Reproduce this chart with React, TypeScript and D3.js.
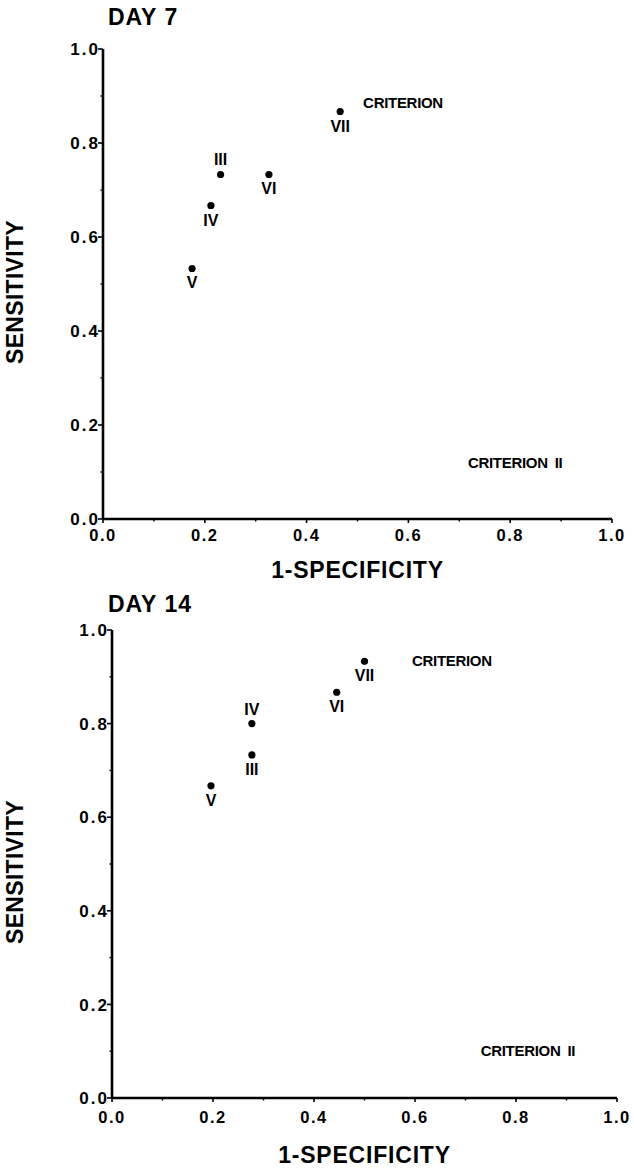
import React from "react";
import * as d3 from "d3";

// Day 7 operating points (1-specificity, sensitivity)
const day7Names = ["V", "IV", "III", "VI", "VII"];
const day7FalsePos = [0.175, 0.212, 0.231, 0.326, 0.466];
const day7Sensitivity = [0.533, 0.667, 0.733, 0.733, 0.867];
const day7LabelAbove = [false, false, true, false, false];

// Day 14 operating points
const day14Names = ["V", "IV", "III", "VI", "VII"];
const day14FalsePos = [0.196, 0.277, 0.277, 0.445, 0.5];
const day14Sensitivity = [0.667, 0.8, 0.733, 0.867, 0.933];
const day14LabelAbove = [false, true, false, false, false];

const majorTicks = [0, 0.2, 0.4, 0.6, 0.8, 1.0];
const tickLabels = ["0.0", "0.2", "0.4", "0.6", "0.8", "1.0"];
const minorTicks = [0.1, 0.3, 0.5, 0.7, 0.9];

const FONT = "'Liberation Sans', Arial, Helvetica, sans-serif";

type PanelProps = {
  title: string;
  titleX: number;
  titleBaseline: number;
  left: number;
  right: number;
  top: number;
  bottom: number;
  tickLabelOffset: number;
  axisTitleOffset: number;
  names: string[];
  fpr: number[];
  sens: number[];
  above: boolean[];
  criterionAt: [number, number];
  criterion2At: [number, number];
};

function Panel(p: PanelProps) {
  const x = d3.scaleLinear().domain([0, 1]).range([p.left, p.right]);
  const y = d3.scaleLinear().domain([0, 1]).range([p.bottom, p.top]);
  const midY = (p.top + p.bottom) / 2 + 8;
  const midX = (p.left + p.right) / 2;
  return (
    <g fontFamily={FONT} fill="#000">
      <text x={p.titleX} y={p.titleBaseline} fontSize={23} fontWeight="bold" letterSpacing={1}>
        {p.title}
      </text>

      {/* axes */}
      <line x1={x(0)} x2={x(0)} y1={y(0)} y2={y(1)} stroke="#000" strokeWidth={2.6} />
      <line x1={x(0)} x2={x(1)} y1={y(0)} y2={y(0)} stroke="#000" strokeWidth={2.6} />

      {majorTicks.map((t, i) => (
        <g key={"my" + i}>
          <line x1={x(0) - 5} x2={x(0)} y1={y(t)} y2={y(t)} stroke="#000" strokeWidth={1.6} />
          <text
            x={x(0) - 3}
            y={y(t)}
            dy="0.36em"
            textAnchor="end"
            fontSize={17}
            fontWeight="bold"
            letterSpacing={2}
          >
            {tickLabels[i]}
          </text>
        </g>
      ))}
      {minorTicks.map((t, i) => (
        <line key={"ny" + i} x1={x(0) - 2.5} x2={x(0)} y1={y(t)} y2={y(t)} stroke="#000" strokeWidth={1.4} />
      ))}

      {majorTicks.map((t, i) => (
        <g key={"mx" + i}>
          <line x1={x(t)} x2={x(t)} y1={y(0)} y2={y(0) + 4} stroke="#000" strokeWidth={1.6} />
          <text
            x={x(t)}
            y={y(0) + p.tickLabelOffset}
            textAnchor="middle"
            fontSize={16.5}
            fontWeight="bold"
            letterSpacing={1.5}
          >
            {tickLabels[i]}
          </text>
        </g>
      ))}
      {minorTicks.map((t, i) => (
        <line key={"nx" + i} x1={x(t)} x2={x(t)} y1={y(0)} y2={y(0) + 2.5} stroke="#000" strokeWidth={1.4} />
      ))}

      <text
        x={midX}
        y={y(0) + p.axisTitleOffset}
        textAnchor="middle"
        fontSize={23}
        fontWeight="bold"
        letterSpacing={0.8}
      >
        1-SPECIFICITY
      </text>
      <text
        transform={`translate(23,${midY}) rotate(-90)`}
        textAnchor="middle"
        fontSize={23}
        fontWeight="bold"
        letterSpacing={0.3}
      >
        SENSITIVITY
      </text>

      {/* operating points */}
      {p.names.map((n, i) => (
        <g key={n}>
          <circle cx={x(p.fpr[i])} cy={y(p.sens[i])} r={3.6} fill="#000" />
          <text
            x={x(p.fpr[i])}
            y={y(p.sens[i]) + (p.above[i] ? -9 : 20)}
            textAnchor="middle"
            fontSize={16}
            fontWeight="bold"
          >
            {n}
          </text>
        </g>
      ))}

      <text
        x={x(p.criterionAt[0])}
        y={y(p.criterionAt[1])}
        dy="0.36em"
        fontSize={15}
        fontWeight="bold"
        letterSpacing={-0.3}
      >
        CRITERION
      </text>
      <text
        x={x(p.criterion2At[0])}
        y={y(p.criterion2At[1])}
        dy="0.36em"
        fontSize={15}
        fontWeight="bold"
        letterSpacing={-0.3}
      >
        CRITERION
        <tspan dx={7}>II</tspan>
      </text>
    </g>
  );
}

export default function App() {
  return (
    <svg
      width={634}
      height={1170}
      viewBox="0 0 634 1170"
      style={{ position: "absolute", left: 0, top: 0, background: "#fff" }}
    >
      <rect width={634} height={1170} fill="#fff" />
      <Panel
        title="DAY 7"
        titleX={108}
        titleBaseline={25}
        left={103}
        right={612}
        top={49}
        bottom={519}
        tickLabelOffset={22}
        axisTitleOffset={59}
        names={day7Names}
        fpr={day7FalsePos}
        sens={day7Sensitivity}
        above={day7LabelAbove}
        criterionAt={[0.511, 0.885]}
        criterion2At={[0.717, 0.121]}
      />
      <Panel
        title="DAY 14"
        titleX={108}
        titleBaseline={612}
        left={112}
        right={617}
        top={630}
        bottom={1098}
        tickLabelOffset={25}
        axisTitleOffset={65}
        names={day14Names}
        fpr={day14FalsePos}
        sens={day14Sensitivity}
        above={day14LabelAbove}
        criterionAt={[0.594, 0.934]}
        criterion2At={[0.73, 0.101]}
      />
    </svg>
  );
}
